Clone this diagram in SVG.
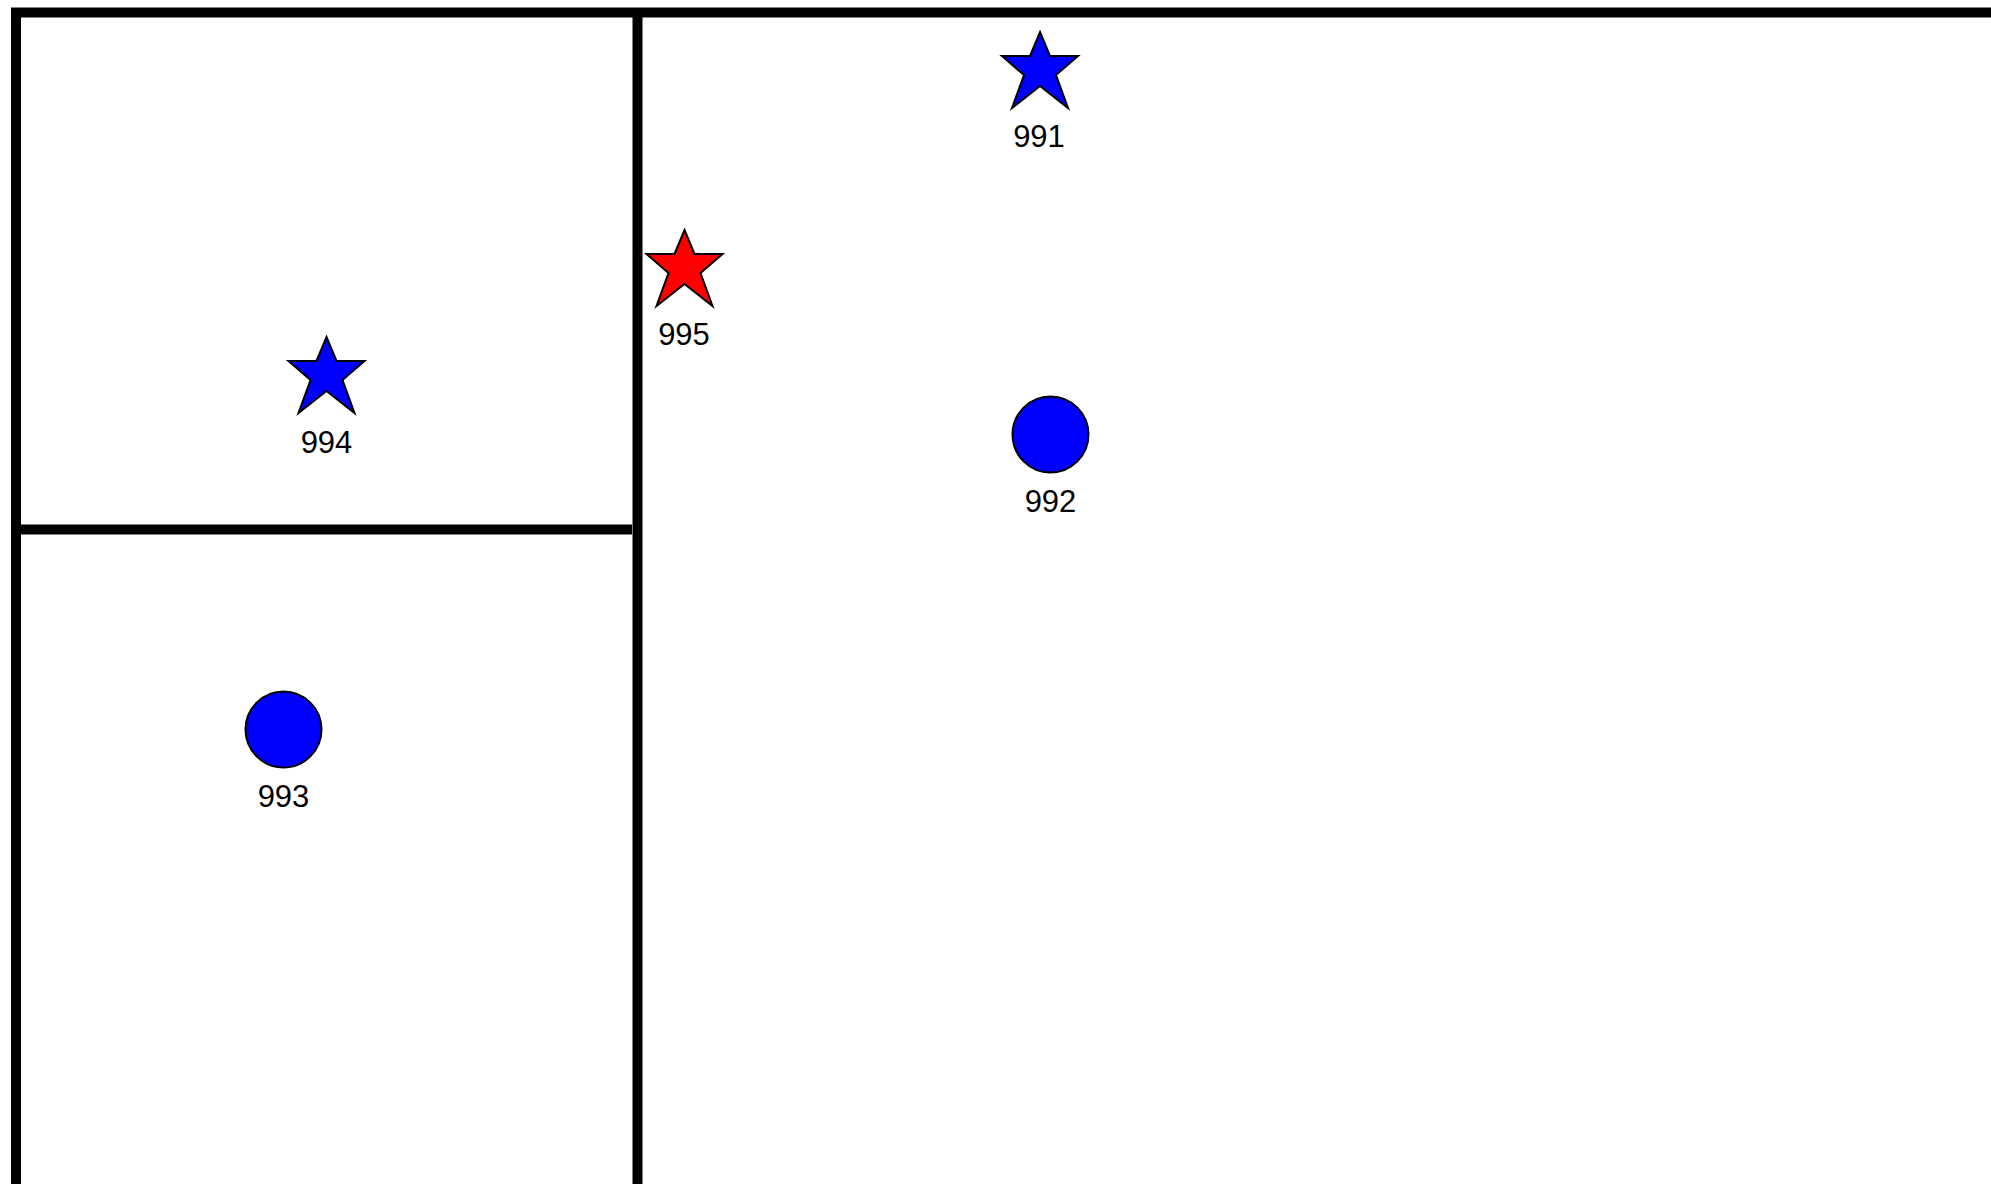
<svg xmlns="http://www.w3.org/2000/svg" width="1991" height="1184" viewBox="0 0 1991 1184">
<defs>
<style>
.wall{stroke:#000;stroke-width:10;fill:none;stroke-linecap:butt}
.shape{stroke:#000;stroke-width:2}
.lbl{font-family:"Liberation Sans",Arial,sans-serif;font-size:31px;fill:#000;text-anchor:middle}
</style>
<polygon id="star" points="0,0 10,24 38,24 16,43 28,76 0,54 -28,76 -16,43 -38,24 -10,24"/>
</defs>
<rect x="0" y="0" width="1991" height="1184" fill="#fff"/>
<g id="walls">
<polyline class="wall" points="16,1184 16,12.5 1991,12.5"/>
<line class="wall" x1="637.5" y1="12" x2="637.5" y2="1184"/>
<line class="wall" x1="21" y1="529.5" x2="632" y2="529.5"/>
</g>
<g id="connectors"></g>
<g id="n991">
<use href="#star" x="1040" y="32" class="shape" fill="#0000ff"/>
<text class="lbl" x="1039" y="147">991</text>
</g>
<g id="n995">
<use href="#star" x="684.5" y="230" class="shape" fill="#ff0000"/>
<text class="lbl" x="684" y="345">995</text>
</g>
<g id="n994">
<use href="#star" x="326.5" y="337" class="shape" fill="#0000ff"/>
<text class="lbl" x="326.5" y="452.5">994</text>
</g>
<g id="n992">
<circle cx="1050.5" cy="434.5" r="38" class="shape" fill="#0000ff"/>
<text class="lbl" x="1050.5" y="511.5">992</text>
</g>
<g id="n993">
<circle cx="283.5" cy="729.5" r="38" class="shape" fill="#0000ff"/>
<text class="lbl" x="283.5" y="807">993</text>
</g>
</svg>
